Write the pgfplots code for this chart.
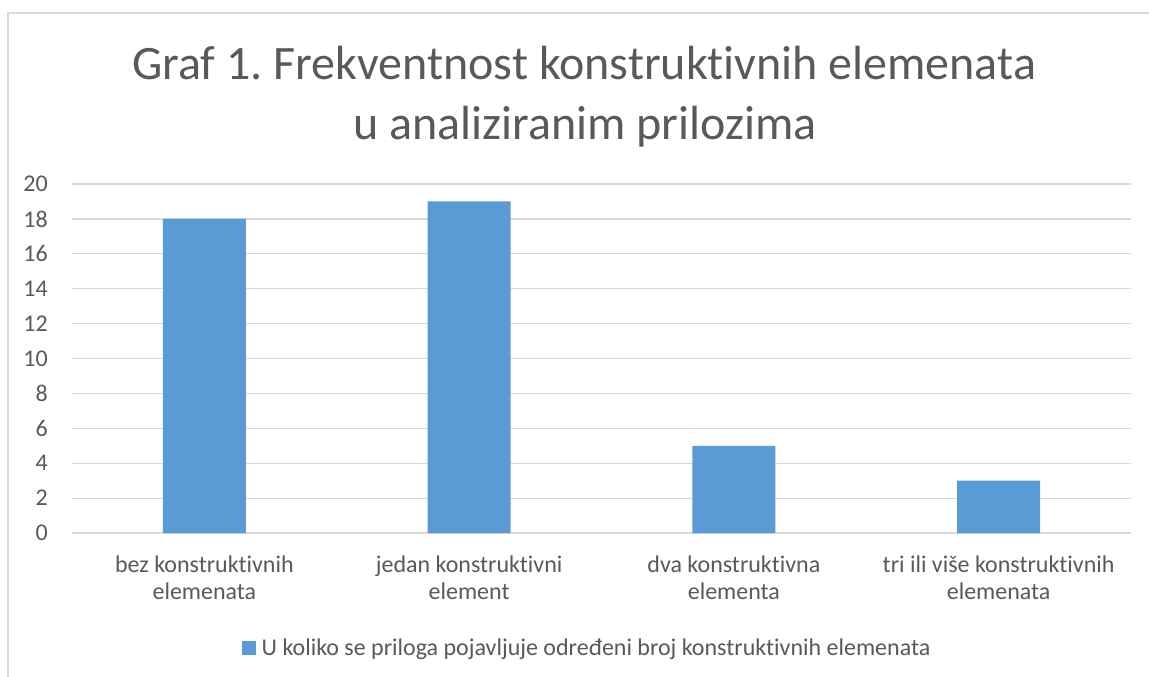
\documentclass[border=0pt]{standalone}
\usepackage{fontspec}
\setmainfont{Carlito}[Ligatures=NoCommon]
\usepackage{pgfplots}
\pgfplotsset{compat=1.18}
\definecolor{barblue}{HTML}{5B9BD5}
\definecolor{txt}{HTML}{595959}
\definecolor{gridc}{HTML}{D9D9D9}
\frenchspacing
\begin{document}
\begin{tikzpicture}
\useasboundingbox (0,0) rectangle (861.75pt,-507.75pt);
\draw[gridc, line width=0.9pt] (6pt,-507.75pt) -- (6pt,-9.75pt) -- (861.75pt,-9.75pt);
\node[font=\fontsize{36}{43}\selectfont, text=txt, anchor=base, inner sep=0pt] at (438pt,-60pt) {Graf 1. Frekventnost konstruktivnih elemenata};
\node[font=\fontsize{36}{43}\selectfont, text=txt, anchor=base, inner sep=0pt] at (438.75pt,-105pt) {u analiziranim prilozima};
\begin{axis}[
  at={(54pt,-399.75pt)}, anchor=south west,
  scale only axis, width=794.25pt, height=261.75pt,
  xmin=-0.5, xmax=3.5, ymin=0, ymax=20,
  ytick={0,2,...,20}, xtick={0,1,2,3},
  xticklabels={{bez konstruktivnih\\elemenata},{jedan konstruktivni\\element},{dva konstruktivna\\elementa},{tri ili više konstruktivnih\\elemenata}},
  axis line style={draw=none}, major tick length=0pt,
  ymajorgrids, grid style={gridc, line width=0.9pt},
  ybar, bar width=62.25pt,
  tick label style={font=\fontsize{18}{20.25}\selectfont, text=txt},
  yticklabel style={anchor=east, inner sep=0pt, xshift=-18pt},
  xticklabel style={anchor=north, align=center, inner sep=0pt, yshift=-17pt},
  /pgf/number format/assume math mode=true,
  legend style={at={(0.487,-0.33)}, anchor=center, draw=none, font=\fontsize{18}{20}\selectfont, text=txt},
  legend image code/.code={\fill[barblue] (0pt,-5.25pt) rectangle (10.5pt,5.25pt); \path (0pt,0pt) -- (12.5pt,0pt);},
]
\addplot[fill=barblue, draw=none] coordinates {(0,18) (1,19) (2,5) (3,3)};
\addlegendentry{U koliko se priloga pojavljuje određeni broj konstruktivnih elemenata}
\end{axis}
\end{tikzpicture}
\end{document}
